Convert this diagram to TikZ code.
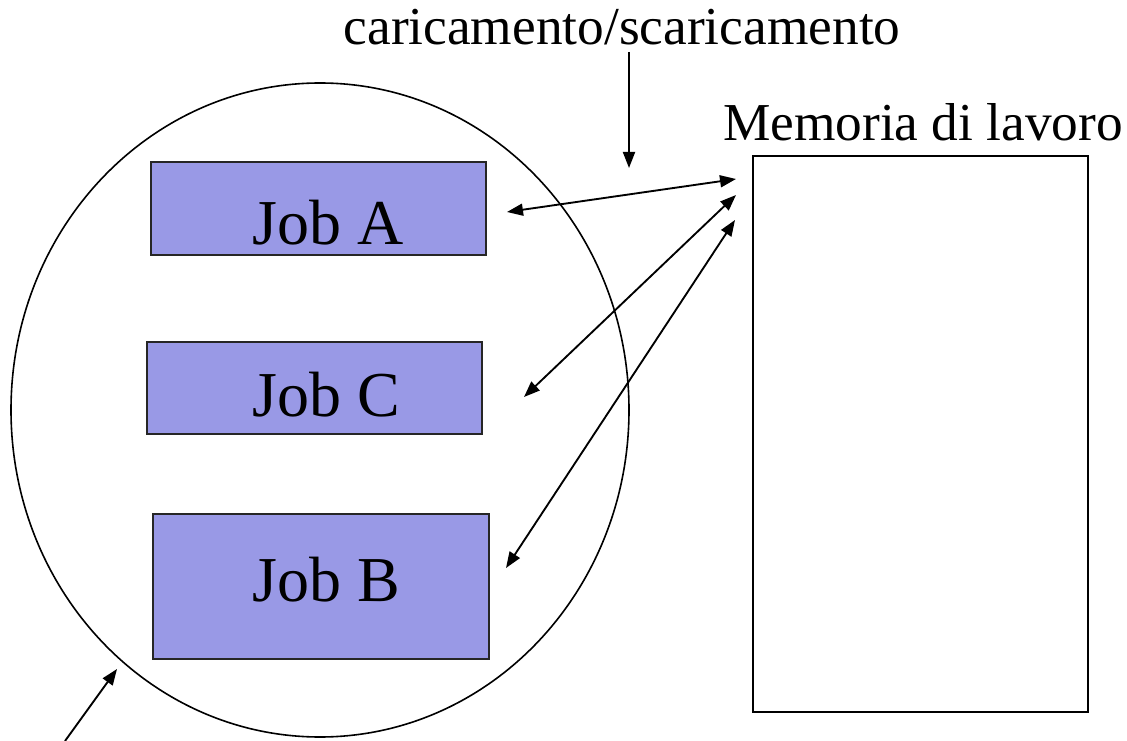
\documentclass[tikz,border=0pt]{standalone}
\usepackage{fontspec}
\setmainfont{Liberation Serif}
\usetikzlibrary{arrows.meta}
\definecolor{jobfill}{RGB}{153,153,230}

\begin{document}
\begin{tikzpicture}[x=0.75pt,y=-0.75pt, >={Triangle[length=12pt,width=9pt]}]
	\tikzstyle{job-box}=[draw=black!85,fill=jobfill,line width=1pt,inner sep=0pt]
	\tikzstyle{job-text}=[anchor=base,inner sep=0pt,font=\fontsize{48}{50}\selectfont]
	\tikzstyle{annot}=[anchor=base,inner sep=0pt,font=\fontsize{40}{42}\selectfont]
	\tikzstyle{link}=[<->,line width=1.4pt]
	\useasboundingbox (0,0) rectangle (1127,741);
	% pool of jobs
	\draw[line width=1.2pt] (320,410) ellipse [x radius=309, y radius=327];

	% job boxes
	\node[job-box,minimum width=251.25pt,minimum height=69.75pt]	(boxA)	at (318.5,208.5)	{};
	\node[job-box,minimum width=251.25pt,minimum height=69pt]	(boxC)	at (314.5,388)	{};
	\node[job-box,minimum width=252pt,minimum height=108.75pt]	(boxB)	at (321,586.5)	{};
	\node[job-text]	(jobA)	at (328,245)	{Job A};
	\node[job-text]	(jobC)	at (326,416)	{Job C};
	\node[job-text]	(jobB)	at (326,601)	{Job B};

	% working memory
	\node[draw,line width=1pt,minimum width=251.25pt,minimum height=417pt,inner sep=0pt]	(mem)	at (920.5,434)	{};
	\node[annot]	(memlabel)	at (923,141)	{Memoria di lavoro};
	\node[annot]	(swap)	at (622,45)	{caricamento/scaricamento};

	% arrow end points
	\coordinate (swaptop) at (629,52);
	\coordinate (swapbot) at (629,168);
	\coordinate (mA) at (736,179);
	\coordinate (mC) at (736,195);
	\coordinate (mB) at (735,220);
	\coordinate (eA) at (507,212);
	\coordinate (eC) at (524,397);
	\coordinate (eB) at (506,568);
	\coordinate (poolfoot) at (65,741);
	\coordinate (poolhead) at (117,669);

	\draw[->,line width=1.4pt] (swaptop) -- (swapbot);
	\path
		(eA)	edge[link]	(mA)
		(eC)	edge[link]	(mC)
		(eB)	edge[link]	(mB);
	\draw[->,line width=1.4pt] (poolfoot) -- (poolhead);
\end{tikzpicture}
\end{document}
